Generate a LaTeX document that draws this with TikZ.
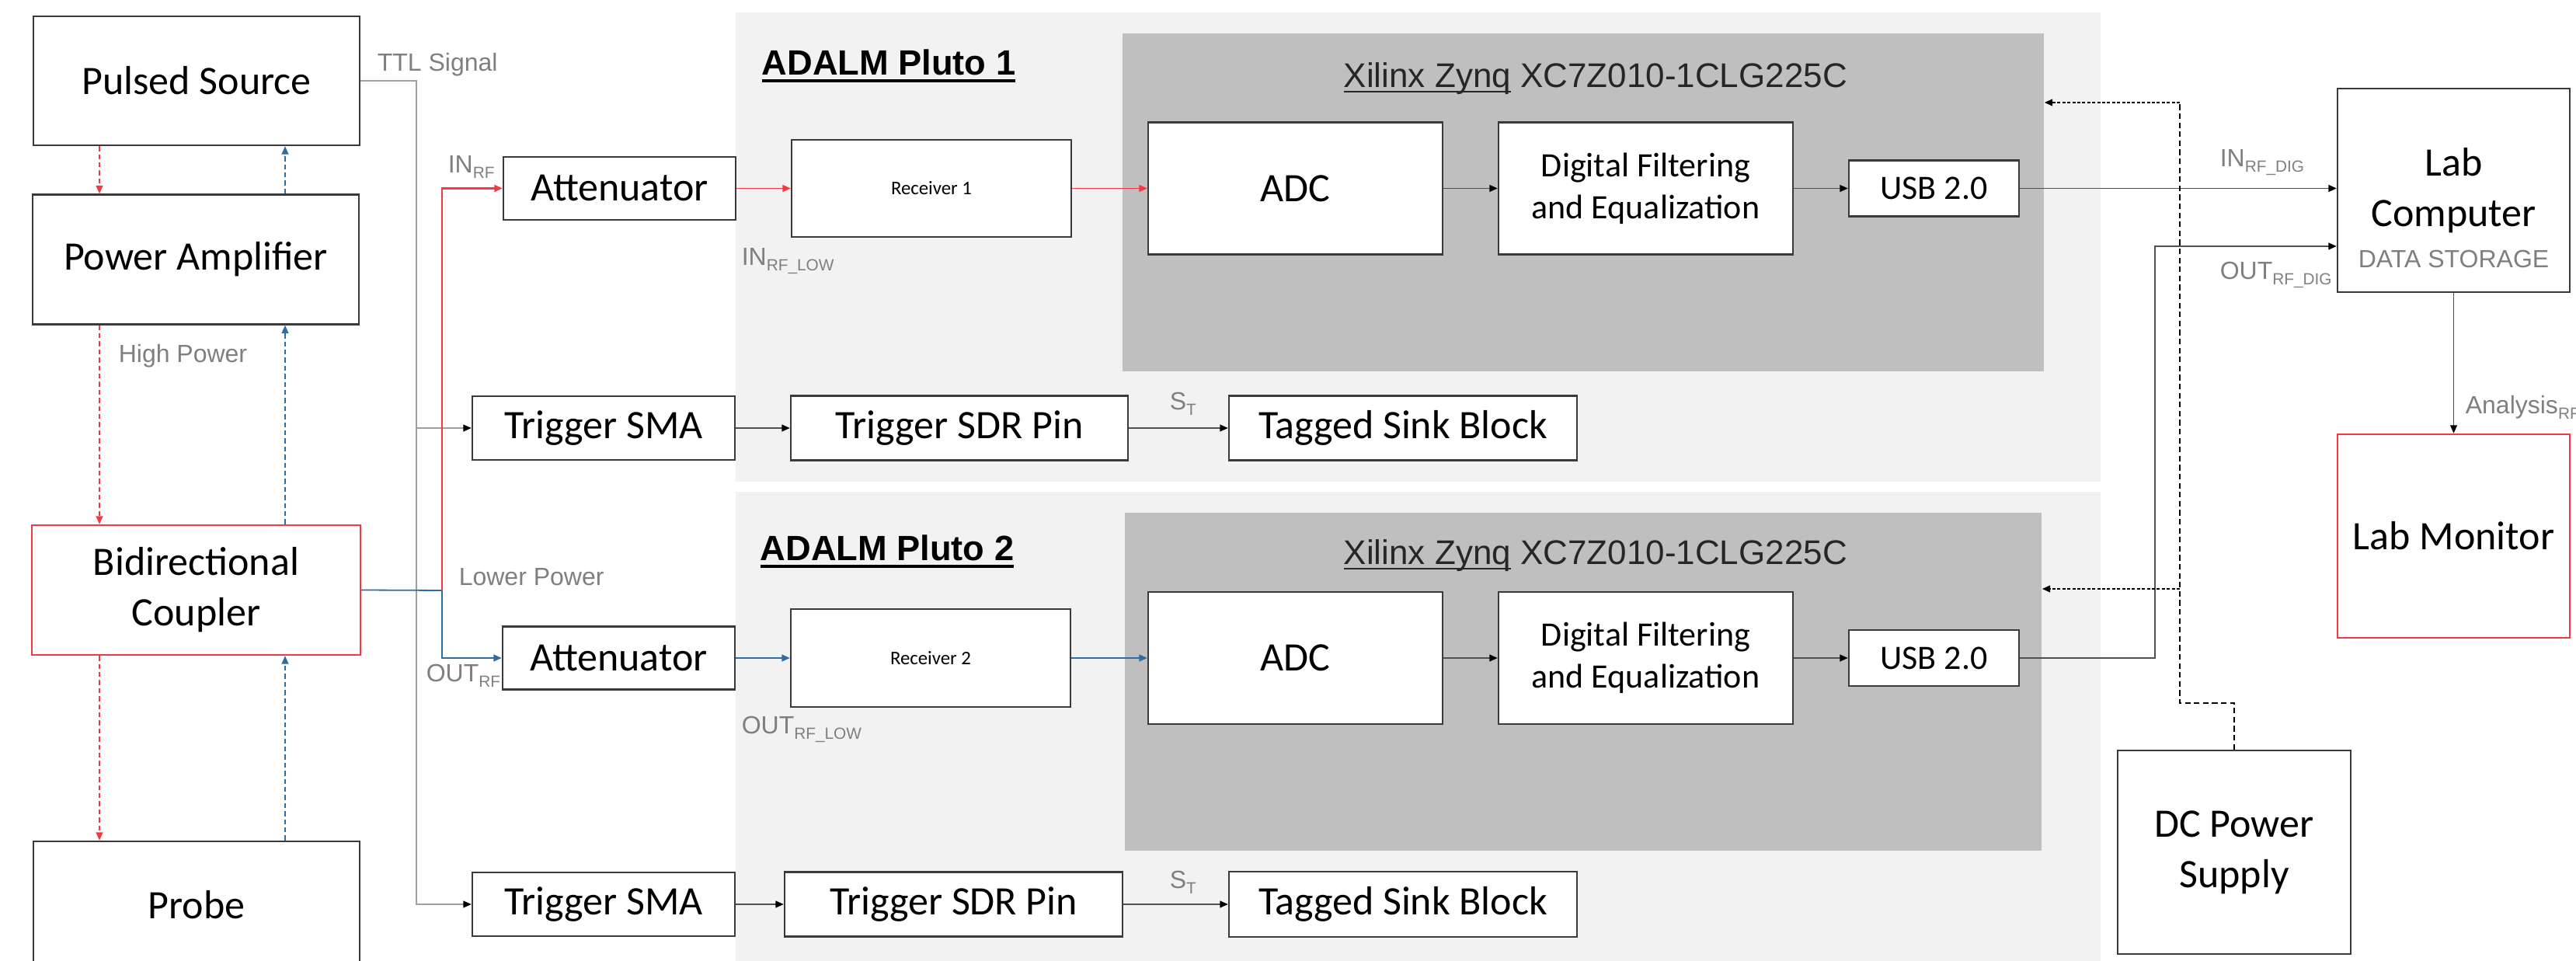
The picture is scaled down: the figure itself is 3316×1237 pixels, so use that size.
\documentclass[tikz,border=0pt]{standalone}
\usepackage{fontspec}
\setmainfont{Carlito}
\newfontfamily\lblfont{Liberation Sans}
\usepackage{tikz}
\usetikzlibrary{arrows.meta}

\definecolor{cPluto}{HTML}{F2F2F2}
\definecolor{cZynq}{HTML}{BFBFBF}
\definecolor{cRed}{HTML}{F23A44}
\definecolor{cBlue}{HTML}{2F6CA3}
\definecolor{cLabel}{HTML}{7F7F7F}
\definecolor{cEdge}{HTML}{3A3A3A}
\definecolor{cLine}{HTML}{505050}

% underline with own depth and thickness
\newcommand{\ulbar}[3]{\setbox0\hbox{#3}\rlap{\rule[#1]{\wd0}{#2}}\box0\relax}
\newcommand{\lsub}[1]{\raisebox{-1.7pt}{\fontsize{5.2}{6}\selectfont #1}}

\begin{document}
\begin{tikzpicture}[x=0.25pt,y=0.25pt,yscale=-1,
    blk/.style={draw=cEdge,line width=0.6pt,fill=white,inner sep=0pt,align=center,font=\fontsize{13}{16.25}\selectfont},
    redblk/.style={blk,draw=cRed},
    smallblk/.style={blk,font=\fontsize{11}{13.5}\selectfont},
    zynqbox/.style={fill=cZynq,draw=none,inner sep=0pt},
    lbl/.style={text=cLabel,inner sep=0pt,anchor=base west,font=\lblfont\fontsize{8}{9.6}\selectfont},
    ptitle/.style={inner sep=0pt,anchor=base west,font=\lblfont\bfseries\fontsize{11.3}{13}\selectfont},
    ztitle/.style={inner sep=0pt,anchor=base west,text=black!85,font=\lblfont\fontsize{11}{13}\selectfont},
    wire/.style={draw=cLine,line width=0.4pt,-{Triangle[length=2.6pt,width=2.2pt,color=black]}},
    ttlwire/.style={wire,draw=gray!75},
    rwire/.style={draw=cRed,line width=0.45pt,-{Triangle[length=2.6pt,width=2.2pt]}},
    bwire/.style={draw=cBlue,line width=0.45pt,-{Triangle[length=2.6pt,width=2.2pt]}},
    rdash/.style={rwire,dash pattern=on 1.6pt off 1pt},
    bdash/.style={bwire,dash pattern=on 1.6pt off 1pt},
    pwr/.style={draw=black,line width=0.4pt,dash pattern=on 1.8pt off 1.1pt},
    pwrh/.style={draw=black,line width=0.45pt,dash pattern=on 1pt off 0.6pt,-{Triangle[length=2.6pt,width=2.2pt]}}]

\useasboundingbox (0,0) rectangle (3316,1237);

% Pluto backgrounds
\fill[cPluto] (947,16) rectangle (2704,620);
\fill[cPluto] (947,633) rectangle (2704,1245);
\node[zynqbox,minimum width=296.5pt,minimum height=108.75pt] (zq1) at (2038,260.5) {};
\node[zynqbox,minimum width=295pt,minimum height=108.75pt] (zq2) at (2038,877.5) {};

\node[ptitle] (p1ttl) at (980,97) {\ulbar{-2.3pt}{1.1pt}{ADALM Pluto 1}};
\node[ptitle] (p2ttl) at (978,722) {\ulbar{-2.3pt}{1.1pt}{ADALM Pluto 2}};
\node[ztitle] (z1ttl) at (1729,113) {\ulbar{-1.5pt}{0.45pt}{Xilinx Zynq} XC7Z010-1CLG225C};
\node[ztitle] (z2ttl) at (1729,727) {\ulbar{-1.5pt}{0.45pt}{Xilinx Zynq} XC7Z010-1CLG225C};

% left column
\node[blk,minimum width=105pt,minimum height=41.5pt] (src) at (253,104) {Pulsed Source};
\node[blk,minimum width=105pt,minimum height=41.75pt] (amp) at (252,334) {Power Amplifier};
\node[redblk,minimum width=105.75pt,minimum height=41.75pt] (cpl) at (252.5,759.5) {Bidirectional\\Coupler};
\node[blk,minimum width=105pt,minimum height=41pt] (probe) at (253,1165) {Probe};

% front ends
\node[blk,minimum width=74.75pt,minimum height=20.25pt] (att1) at (797.5,242.5) {Attenuator};
\node[blk,minimum width=74.75pt,minimum height=20.25pt] (att2) at (796.5,847) {Attenuator};
\node[blk,minimum width=84.5pt,minimum height=20.5pt] (sma1) at (777,551) {Trigger SMA};
\node[blk,minimum width=84.5pt,minimum height=20.5pt] (sma2) at (777,1164) {Trigger SMA};

% pluto 1
\node[blk,minimum width=90pt,minimum height=31.25pt,font=\fontsize{6.2}{7.5}\selectfont] (rx1) at (1199,242.5) {Receiver 1};
\node[blk,minimum width=94.75pt,minimum height=42.5pt] (adc1) at (1667.5,242.5) {ADC};
\node[smallblk,minimum width=94.75pt,minimum height=42.5pt] (dsp1) at (2118.5,242.5) {Digital Filtering\\and Equalization};
\node[smallblk,minimum width=54.75pt,minimum height=18pt] (usb1) at (2489.5,242.5) {USB 2.0};
\node[blk,minimum width=108.5pt,minimum height=20.75pt] (pin1) at (1235,551) {Trigger SDR Pin};
\node[blk,minimum width=112pt,minimum height=20.75pt] (sink1) at (1806,551) {Tagged Sink Block};

% pluto 2
\node[blk,minimum width=90pt,minimum height=31.5pt,font=\fontsize{6.2}{7.5}\selectfont] (rx2) at (1198,847) {Receiver 2};
\node[blk,minimum width=94.75pt,minimum height=42.5pt] (adc2) at (1667.5,847) {ADC};
\node[smallblk,minimum width=94.75pt,minimum height=42.5pt] (dsp2) at (2118.5,847) {Digital Filtering\\and Equalization};
\node[smallblk,minimum width=54.75pt,minimum height=18pt] (usb2) at (2489.5,847) {USB 2.0};
\node[blk,minimum width=108.75pt,minimum height=20.75pt] (pin2) at (1227.5,1164) {Trigger SDR Pin};
\node[blk,minimum width=112pt,minimum height=21pt] (sink2) at (1806,1164) {Tagged Sink Block};

% right side
\node[blk,minimum width=74.75pt,minimum height=65.5pt] (pc) at (3158.5,245) {Lab\\Computer};
\node[lbl,anchor=base] (store) at (3158.5,345) {DATA STORAGE};
\node[redblk,minimum width=74.75pt,minimum height=65.5pt] (mon) at (3158.5,690) {Lab Monitor};
\node[blk,minimum width=75pt,minimum height=65.5pt] (dc) at (2876,1097) {DC Power\\Supply};

% labels
\node[lbl] (ttllbl) at (485,92) {TTL Signal};
\node[lbl] (hplbl) at (152,467) {High Power};
\node[lbl] (inrf) at (576,223) {IN\lsub{RF}};
\node[lbl] (lplbl) at (590,754) {Lower Power};
\node[lbl] (outrf) at (548,878) {OUT\lsub{RF}};
\node[lbl] (inlow) at (954,342) {IN\lsub{RF\_LOW}};
\node[lbl] (outlow) at (954,945) {OUT\lsub{RF\_LOW}};
\node[lbl] (st1) at (1505,528) {S\lsub{T}};
\node[lbl] (st2) at (1505,1144) {S\lsub{T}};
\node[lbl] (indig) at (2857,215) {IN\lsub{RF\_DIG}};
\node[lbl] (outdig) at (2857,360) {OUT\lsub{RF\_DIG}};
\node[lbl] (anl) at (3173,533) {Analysis\lsub{RF}};

% forward / reflected paths
\coordinate (fx) at (128,0);
\coordinate (bx) at (367,0);
\draw[rdash] (src.south -| fx) -- (amp.north -| fx);
\draw[bdash] (amp.north -| bx) -- (src.south -| bx);
\draw[rdash] (amp.south -| fx) -- (cpl.north -| fx);
\draw[bdash] (cpl.north -| bx) -- (amp.south -| bx);
\draw[rdash] (cpl.south -| fx) -- (probe.north -| fx);
\draw[bdash] (probe.north -| bx) -- (cpl.south -| bx);

% trigger
\coordinate (ttl) at (536,104);
\draw[ttlwire] (src.east) -- (ttl) |- (sma1.west);
\draw[ttlwire] (ttl) |- (sma2.west);

% coupled ports
\coordinate (split) at (569,760);
\draw[bwire] (cpl.east) -- (split) |- (att2.west);
\draw[rwire,line width=0.6pt] (split) |- (att1.west);

\draw[rwire] (att1.east) -- (rx1.west);
\draw[rwire] (rx1.east) -- (adc1.west);
\draw[bwire] (att2.east) -- (rx2.west);
\draw[bwire] (rx2.east) -- (adc2.west);

\draw[wire] (adc1.east) -- (dsp1.west);
\draw[wire] (dsp1.east) -- (usb1.west);
\draw[wire] (adc2.east) -- (dsp2.west);
\draw[wire] (dsp2.east) -- (usb2.west);

\draw[wire] (sma1.east) -- (pin1.west);
\draw[wire] (pin1.east) -- (sink1.west);
\draw[wire] (sma2.east) -- (pin2.west);
\draw[wire] (pin2.east) -- (sink2.west);

% to the lab computer
\draw[wire] (usb1.east) -- (usb1.east -| pc.west);
\coordinate (ojog) at (2774,317);
\draw[wire] (usb2.east) -| (ojog) -- (ojog -| pc.west);
\draw[wire] (pc.south) -- (mon.north);

% supply
\coordinate (pwtop) at (2806,132);
\coordinate (pwmid) at (2806,758);
\coordinate (pwbend) at (2806,905);
\draw[pwr] (dc.north) |- (pwbend) -- (pwtop);
\draw[pwrh] (pwtop) -- (pwtop -| zq1.east);
\draw[pwrh] (pwmid) -- (pwmid -| zq2.east);
\end{tikzpicture}
\end{document}
